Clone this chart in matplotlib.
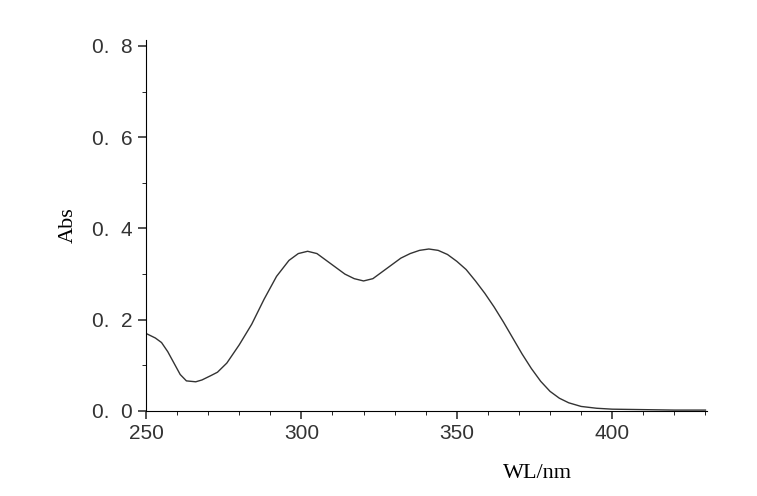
import matplotlib
matplotlib.use("Agg")
import matplotlib.pyplot as plt
from matplotlib.ticker import MultipleLocator

wl = [250,253,255,257,259,261,263,266,268,271,273,276,280,284,288,292,296,299,302,305,308,311,314,317,320,323,326,329,332,335,338,341,344,347,350,353,356,359,362,365,368,371,374,377,380,383,386,390,395,400,410,420,430]
absv = [0.17,0.16,0.15,0.13,0.105,0.08,0.066,0.064,0.068,0.078,0.085,0.105,0.145,0.19,0.245,0.295,0.33,0.345,0.35,0.345,0.33,0.315,0.3,0.29,0.285,0.29,0.305,0.32,0.335,0.345,0.352,0.355,0.352,0.343,0.328,0.31,0.285,0.258,0.228,0.195,0.16,0.125,0.093,0.065,0.043,0.028,0.018,0.01,0.006,0.004,0.003,0.002,0.002]
xticks = [250,300,350,400]
yticks = [0.0,0.2,0.4,0.6,0.8]
ylabels = ["0.  0","0.  2","0.  4","0.  6","0.  8"]

fig = plt.figure(figsize=(7.57,4.96), dpi=100)
ax = fig.add_axes([146/757, 1-411/496, (707-146)/757, (411-40)/496])
ax.plot(wl, absv, color="#333333", lw=1.0)
ax.set_xlim(250, 430.5)
ax.set_ylim(0, 0.813)
for s in ["top","right"]:
    ax.spines[s].set_visible(False)
ax.set_xticks(xticks)
ax.set_yticks(yticks)
ax.set_yticklabels(ylabels)
ax.xaxis.set_minor_locator(MultipleLocator(10))
ax.yaxis.set_minor_locator(MultipleLocator(0.1))
ax.tick_params(direction="out", labelsize=15, length=6, width=1.2, colors="#333333")
ax.tick_params(which="minor", direction="out", length=3)
for t in ax.get_xticklabels()+ax.get_yticklabels():
    t.set_family("Liberation Sans")
ax.set_ylabel("Abs", fontsize=16, family="Liberation Serif", labelpad=10)
fig.text(537/757, 1-474/496, "WL/nm", fontsize=16, family="Liberation Serif", ha="center", va="center")
fig.savefig("out.png", dpi=100)
